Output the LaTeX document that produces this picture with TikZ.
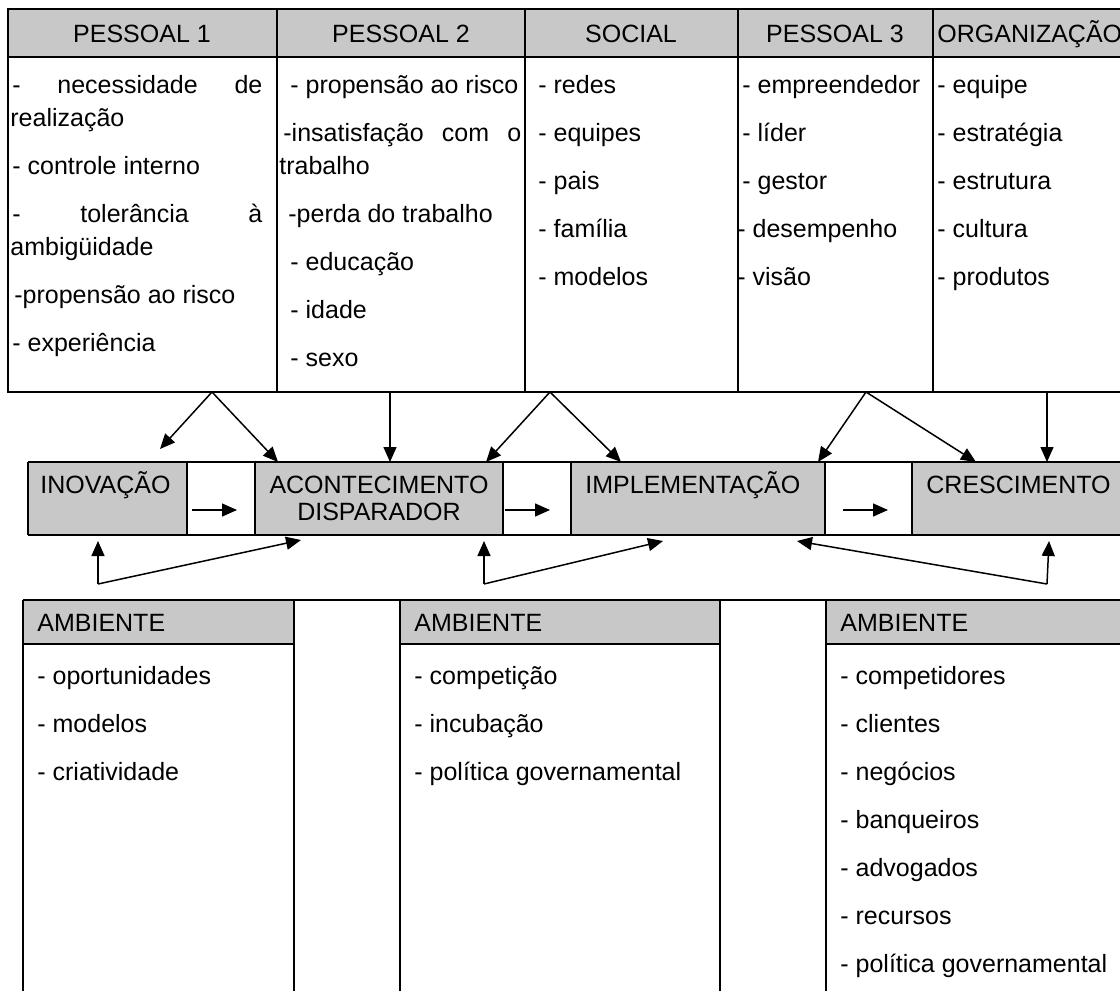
\documentclass[tikz,border=0pt]{standalone}
\usepackage{fontspec}
\setmainfont{Liberation Sans}
\usetikzlibrary{arrows.meta}
\definecolor{cellgray}{RGB}{200,200,200}

\begin{document}
\begin{tikzpicture}[x=0.5pt,y=0.5pt,yscale=-1,
  grid/.style={line width=1pt},
  lbl/.style={anchor=base west,inner sep=0pt,font=\fontsize{12.5}{15}\selectfont},
  clbl/.style={lbl,anchor=base},
  link/.style={line width=0.75pt,-{Triangle[length=7.5pt,width=6.5pt]}}]
\useasboundingbox (0,0) rectangle (1120,991);
\clip (0,0) rectangle (1120,991);

%Table: factors (top)
\fill [cellgray] (8,9) rectangle (1130,57);
\draw [grid] (8,9) rectangle (1130,392);
\draw [grid] (8,57) -- (1130,57);
\foreach \x in {277,525,738,933} \draw [grid] (\x,9) -- (\x,392);

% Header Text Nodes
\node [clbl] (pes1) at (142,42) {PESSOAL 1};
\node [clbl] (pes2) at (401,42) {PESSOAL 2};
\node [clbl] (soc) at (631,42) {SOCIAL};
\node [clbl] (pes3) at (835,42) {PESSOAL 3};
\node [lbl] (org) at (937,42) {ORGANIZAÇÃO};

% PESSOAL 1
\node [lbl] (pes1-1) at (12,93) {\makebox[125pt][s]{- necessidade de}};
\node [lbl] (pes1-2) at (10,126) {realização};
\node [lbl] (pes1-3) at (12,174) {- controle interno};
\node [lbl] (pes1-4) at (12,222) {\makebox[125pt][s]{- tolerância à}};
\node [lbl] (pes1-5) at (10,255) {ambigüidade};
\node [lbl] (pes1-6) at (14,303) {-propensão ao risco};
\node [lbl] (pes1-7) at (12,351) {- experiência};

% PESSOAL 2
\node [lbl] (pes2-1) at (290,93) {- propensão ao risco};
\node [lbl] (pes2-2) at (283,141) {\makebox[119pt][s]{-insatisfação com o}};
\node [lbl] (pes2-3) at (279,174) {trabalho};
\node [lbl] (pes2-4) at (288,222) {-perda do trabalho};
\foreach \t [count=\i] in {- educação,- idade,- sexo}
  \node [lbl] (pes2-\the\numexpr\i+4\relax) at (290,{222+48*\i}) {\t};

% SOCIAL
\foreach \t [count=\i] in {- redes,- equipes,- pais,- família,- modelos}
  \node [lbl] (soc-\i) at (538,{45+48*\i}) {\t};

% PESSOAL 3
\foreach \t/\x [count=\i] in {- empreendedor/742,- líder/742,- gestor/742,- desempenho/737,- visão/737}
  \node [lbl] (pes3-\i) at (\x,{45+48*\i}) {\t};

% ORGANIZAÇÃO
\foreach \t [count=\i] in {- equipe,- estratégia,- estrutura,- cultura,- produtos}
  \node [lbl] (org-\i) at (937,{45+48*\i}) {\t};

%Row: stages (middle)
\fill [cellgray] (28,462) rectangle (187,535);
\fill [cellgray] (255,462) rectangle (503,535);
\fill [cellgray] (571,462) rectangle (825,535);
\fill [cellgray] (912,462) rectangle (1130,535);
\draw [grid] (28,462) -- (1130,462) (28,535) -- (1130,535);
\foreach \x in {28,187,255,503,571,825,912} \draw [grid] (\x,462) -- (\x,535);

\node [lbl] (inov) at (40,493) {INOVAÇÃO};
\node [clbl] (acont) at (379,493) {ACONTECIMENTO};
\node [clbl] (disp) at (379,520) {DISPARADOR};
\node [lbl] (impl) at (585,493) {IMPLEMENTAÇÃO};
\node [lbl] (cresc) at (926,493) {CRESCIMENTO};

%Table: environment (bottom)
\fill [cellgray] (23,600) rectangle (294,644);
\fill [cellgray] (400,600) rectangle (720,644);
\fill [cellgray] (826,600) rectangle (1130,644);
\draw [grid] (23,600) -- (1130,600);
\draw [grid] (23,644) -- (294,644) (400,644) -- (720,644) (826,644) -- (1130,644);
\foreach \x in {23,294,400,720,826} \draw [grid] (\x,600) -- (\x,1000);

\node [lbl] (amb1) at (37,631) {AMBIENTE};
\node [lbl] (amb2) at (414,631) {AMBIENTE};
\node [lbl] (amb3) at (840,631) {AMBIENTE};
\foreach \t [count=\i] in {- oportunidades,- modelos,- criatividade}
  \node [lbl] (amb1-\i) at (37,{636+48*\i}) {\t};
\foreach \t [count=\i] in {- competição,- incubação,- política governamental}
  \node [lbl] (amb2-\i) at (414,{636+48*\i}) {\t};
\foreach \t [count=\i] in {- competidores,- clientes,- negócios,- banqueiros,- advogados,- recursos,- política governamental}
  \node [lbl] (amb3-\i) at (840,{636+48*\i}) {\t};

% Connector end points
\coordinate (top1) at (212,392);
\coordinate (top2) at (390,392);
\coordinate (top3) at (550,392);
\coordinate (top4) at (866,392);
\coordinate (top5) at (1047,392);
\coordinate (inovIn) at (160,449);
\coordinate (acontInA) at (278,462);
\coordinate (acontInB) at (390,462);
\coordinate (acontInC) at (486,462);
\coordinate (implInA) at (621,462);
\coordinate (implInB) at (818,462);
\coordinate (crescInA) at (976,462);
\coordinate (crescInB) at (1047,462);
\coordinate (envL) at (98,584);
\coordinate (envM) at (484,584);
\coordinate (envR) at (1047,584);
\coordinate (inovOut) at (98,541);
\coordinate (acontOutA) at (301,540);
\coordinate (acontOutB) at (484,541);
\coordinate (implOutA) at (663,541);
\coordinate (implOutB) at (797,541);
\coordinate (crescOut) at (1049,541);
\coordinate (stepA1) at (192,510);
\coordinate (stepA2) at (237,510);
\coordinate (stepB1) at (505,510);
\coordinate (stepB2) at (550,510);
\coordinate (stepC1) at (843,510);
\coordinate (stepC2) at (888,510);

% Arrows: factors to stages
\draw [link] (top1) -- (inovIn);
\draw [link] (top1) -- (acontInA);
\draw [link] (top2) -- (acontInB);
\draw [link] (top3) -- (acontInC);
\draw [link] (top3) -- (implInA);
\draw [link] (top4) -- (implInB);
\draw [link] (top4) -- (crescInA);
\draw [link] (top5) -- (crescInB);

% Arrows: between stages
\draw [link] (stepA1) -- (stepA2);
\draw [link] (stepB1) -- (stepB2);
\draw [link] (stepC1) -- (stepC2);

% Arrows: environment to stages
\draw [link] (envL) -- (inovOut);
\draw [link] (envL) -- (acontOutA);
\draw [link] (envM) -- (acontOutB);
\draw [link] (envM) -- (implOutA);
\draw [link] (envR) -- (crescOut);
\draw [link] (envR) -- (implOutB);

\end{tikzpicture}
\end{document}
